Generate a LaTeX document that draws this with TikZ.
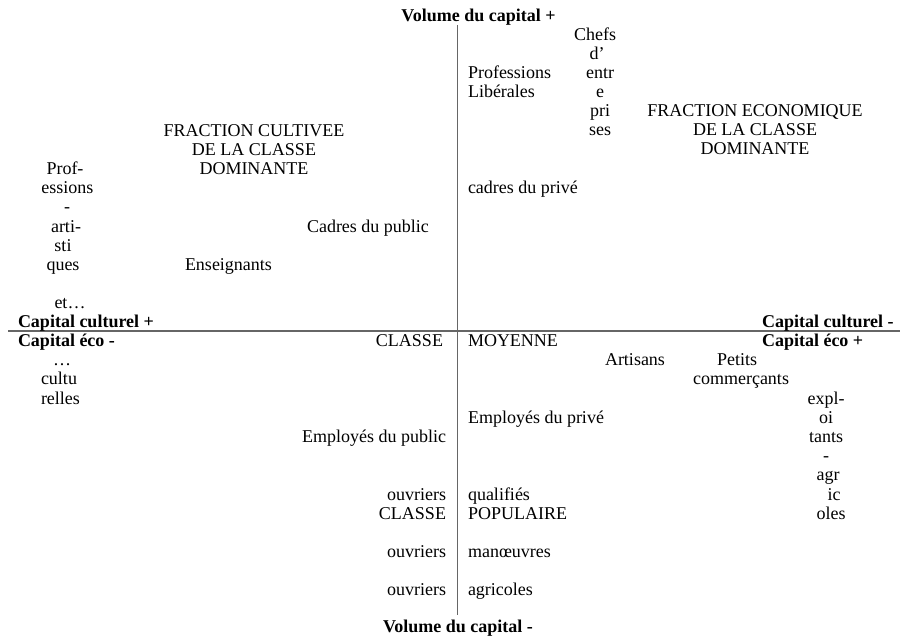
\documentclass[tikz,border=0pt]{standalone}
\usepackage{fontspec}
\setmainfont{Liberation Serif}
\begin{document}
\begin{tikzpicture}[x=1pt,y=-1pt,
  txt/.style={inner sep=0pt, outer sep=0pt, font=\fontsize{18}{19}\selectfont, text=black},
  bld/.style={txt, font=\fontsize{18}{19}\selectfont\bfseries},
  L/.style={anchor=base west},
  R/.style={anchor=base east},
  C/.style={anchor=base},
  axis/.style={draw=black!60, line width=1.1pt}]
\useasboundingbox (0,0) rectangle (900,637);
% axes
\coordinate (hl) at (8,331);
\coordinate (hr) at (900,331);
\coordinate (vt) at (457.5,25);
\coordinate (vb) at (457.5,615);
\draw[axis] (hl) -- (hr);
\draw[axis] (vt) -- (vb);
% axis labels
\node[bld,C] (volp) at (478.5,21) {Volume du capital +};
\node[bld,C] (volm) at (458,632) {Volume du capital -};
\node[bld,L] (ccp) at (18,327) {Capital culturel +};
\node[bld,L] (cem) at (18,346) {Capital éco -};
\node[bld,L] (ccm) at (762,327) {Capital culturel -};
\node[bld,L] (cep) at (762,346) {Capital éco +};
% Chefs d'entreprises
\node[txt,C] (ch1) at (595,40) {Chefs};
\node[txt,C] (ch2) at (597,59) {d’};
\node[txt,C] (ch3) at (600,78) {entr};
\node[txt,C] (ch4) at (600,97) {e};
\node[txt,C] (ch5) at (600,116.5) {pri};
\node[txt,C] (ch6) at (600,135.5) {ses};
% Professions liberales
\node[txt,L] (pl1) at (468,78) {Professions};
\node[txt,L] (pl2) at (468,97) {Libérales};
% Fraction economique
\node[txt,C] (fe1) at (755,116.5) {FRACTION ECONOMIQUE};
\node[txt,C] (fe2) at (755,135.5) {DE LA CLASSE};
\node[txt,C] (fe3) at (755,154.5) {DOMINANTE};
% Fraction cultivee
\node[txt,C] (fc1) at (254,136) {FRACTION CULTIVEE};
\node[txt,C] (fc2) at (254,155) {DE LA CLASSE};
\node[txt,C] (fc3) at (254,174) {DOMINANTE};
% Professions artistiques
\node[txt,C] (pa1) at (65,174) {Prof-};
\node[txt,C] (pa2) at (67.5,193) {essions};
\node[txt,C] (pa3) at (67,212.5) {-};
\node[txt,C] (pa4) at (66,232) {arti-};
\node[txt,C] (pa5) at (63,251) {sti};
\node[txt,C] (pa6) at (63,270) {ques};
\node[txt,C] (pa7) at (70,308) {et…};
% culturelles
\node[txt,C] (cu1) at (62,365) {…};
\node[txt,L] (cu2) at (41,384.5) {cultu};
\node[txt,L] (cu3) at (41,404) {relles};
% upper quadrants others
\node[txt,L] (cpr) at (468,193) {cadres du privé};
\node[txt,L] (cpu) at (307,232) {Cadres du public};
\node[txt,L] (ens) at (185,270) {Enseignants};
% classe moyenne
\node[txt,R] (cm1) at (443,346) {CLASSE};
\node[txt,L] (cm2) at (468,346) {MOYENNE};
\node[txt,L] (art) at (605,365) {Artisans};
\node[txt,C] (pc1) at (737,365) {Petits};
\node[txt,C] (pc2) at (741,384.5) {commerçants};
% exploitants agricoles
\node[txt,C] (ea1) at (826,404) {expl-};
\node[txt,C] (ea2) at (826,423) {oi};
\node[txt,C] (ea3) at (826,442) {tants};
\node[txt,C] (ea4) at (826,461) {-};
\node[txt,C] (ea5) at (828,480.5) {agr};
\node[txt,C] (ea6) at (834,500) {ic};
\node[txt,C] (ea7) at (831,519) {oles};
% employes
\node[txt,L] (epr) at (468,423) {Employés du privé};
\node[txt,R] (epu) at (446,442) {Employés du public};
% classe populaire
\node[txt,R] (oq1) at (446,500) {ouvriers};
\node[txt,L] (oq2) at (468,500) {qualifiés};
\node[txt,R] (cp1) at (446,519) {CLASSE};
\node[txt,L] (cp2) at (468,519) {POPULAIRE};
\node[txt,R] (om1) at (446,557) {ouvriers};
\node[txt,L] (om2) at (468,557) {manœuvres};
\node[txt,R] (oa1) at (446,595) {ouvriers};
\node[txt,L] (oa2) at (468,595) {agricoles};
\end{tikzpicture}
\end{document}
